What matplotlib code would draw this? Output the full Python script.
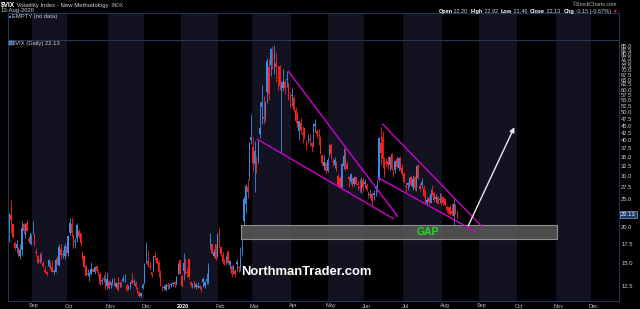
import numpy as np
import pandas as pd
import matplotlib
matplotlib.use('Agg')
import matplotlib.pyplot as plt
import matplotlib.transforms as mtransforms
from matplotlib.patches import Rectangle
from matplotlib.ticker import NullLocator

plt.rcParams['font.family'] = ['Liberation Sans', 'DejaVu Sans']

# ---------------- data: daily (open, high, low, close) ----------------
aug2019 = [(19.5, 22.4, 17.8, 22.10), (22.0, 24.8, 19.0, 21.18), (20.4, 20.7, 18.3, 18.47),
           (17.6, 17.9, 16.6, 16.88), (16.9, 18.0, 16.3, 17.50), (16.7, 17.0, 15.7, 15.80),
           (15.9, 17.5, 15.5, 16.68), (16.6, 21.0, 15.9, 19.87), (20.5, 20.6, 18.9, 19.32),
           (18.8, 20.6, 18.3, 20.31), (20.6, 21.1, 19.3, 19.35), (18.2, 18.6, 17.6, 17.88),
           (17.5, 18.9, 17.3, 18.98)]
sep2019 = [(19.6, 21.0, 18.9, 19.66), (18.8, 19.0, 17.2, 17.33), (16.3, 16.9, 15.9, 16.27),
           (15.8, 16.0, 14.9, 15.00), (15.4, 16.2, 15.0, 15.27), (15.7, 16.4, 15.1, 15.20),
           (15.0, 15.2, 14.5, 14.61), (14.0, 14.6, 13.8, 14.22), (13.9, 14.1, 13.5, 13.74),
           (15.3, 15.5, 14.5, 14.67), (14.8, 15.2, 14.2, 14.44), (14.5, 15.4, 13.9, 13.95),
           (13.9, 14.3, 13.7, 14.05), (14.0, 15.6, 13.9, 15.32), (15.7, 15.9, 14.8, 14.91),
           (14.8, 17.4, 14.6, 17.05), (16.8, 17.4, 15.5, 15.96), (16.0, 16.6, 15.6, 16.07),
           (15.8, 17.6, 15.5, 17.22), (17.1, 17.2, 15.9, 16.24)]
oct2019 = [(16.3, 18.8, 15.8, 18.56), (19.0, 21.5, 18.8, 20.56), (20.4, 21.5, 18.5, 19.12),
           (18.6, 18.9, 16.9, 17.04), (17.8, 18.3, 16.9, 17.86), (18.3, 20.6, 17.8, 20.28),
           (19.4, 19.6, 18.3, 18.64), (19.0, 19.1, 17.2, 17.57), (16.4, 16.5, 15.4, 15.58),
           (15.9, 16.0, 14.5, 14.57), (14.6, 14.7, 13.5, 13.54), (13.8, 14.3, 13.5, 13.68),
           (13.6, 13.9, 13.0, 13.79), (13.7, 15.1, 13.6, 14.25), (14.3, 14.4, 13.9, 14.00),
           (14.0, 14.6, 13.7, 14.46), (14.6, 14.8, 13.9, 14.01), (13.9, 14.2, 13.5, 13.71),
           (13.7, 13.9, 12.6, 12.65), (13.0, 13.3, 12.7, 13.11), (13.2, 13.6, 12.9, 13.20),
           (13.3, 13.9, 12.1, 12.33), (12.5, 13.9, 12.2, 13.22)]
nov2019 = [(13.0, 13.1, 12.2, 12.30), (12.6, 12.9, 12.3, 12.83), (12.8, 13.3, 12.6, 13.10),
           (13.2, 13.3, 12.5, 12.62), (12.4, 12.9, 12.3, 12.73), (12.8, 13.4, 12.0, 12.07),
           (12.7, 12.9, 12.4, 12.69), (12.6, 13.0, 12.4, 12.68), (13.2, 13.6, 12.9, 13.00),
           (13.1, 13.7, 12.9, 13.05), (12.6, 12.7, 12.0, 12.05), (12.3, 12.6, 12.1, 12.46),
           (12.4, 12.9, 12.2, 12.86), (13.1, 13.8, 12.7, 12.78), (12.9, 13.2, 12.6, 12.98),
           (12.8, 13.0, 12.2, 12.34), (12.3, 12.4, 11.8, 11.87), (11.9, 12.0, 11.4, 11.54),
           (11.5, 11.8, 11.4, 11.75), (12.3, 12.8, 12.2, 12.62)]
dec2019 = [(12.9, 15.0, 12.7, 14.91), (16.0, 17.8, 15.0, 15.96), (15.2, 16.6, 14.5, 14.80),
           (14.6, 15.2, 14.2, 14.52), (13.9, 14.0, 13.4, 13.62), (14.2, 15.9, 14.1, 15.86),
           (15.8, 16.4, 15.3, 15.68), (15.6, 15.7, 14.9, 14.99), (15.1, 15.4, 13.4, 13.94),
           (13.5, 14.2, 12.5, 12.63), (12.4, 12.6, 12.0, 12.14), (12.4, 12.6, 12.1, 12.29),
           (12.1, 12.8, 12.0, 12.58), (12.6, 12.9, 12.2, 12.50), (12.4, 12.7, 12.2, 12.51),
           (12.6, 12.9, 12.4, 12.61), (12.8, 12.9, 12.5, 12.67), (12.9, 13.0, 12.4, 12.65),
           (12.7, 13.5, 12.6, 13.43), (13.8, 15.0, 13.7, 14.82), (15.3, 15.4, 13.7, 13.78)]
jan2020 = [(13.5, 13.7, 12.4, 12.47), (15.0, 16.2, 13.1, 14.02), (15.5, 15.5, 13.7, 13.85),
           (14.0, 14.4, 13.4, 13.79), (15.5, 15.5, 13.2, 13.45), (12.9, 13.0, 12.4, 12.54),
           (12.6, 12.8, 12.3, 12.56), (13.0, 13.0, 12.3, 12.32), (12.7, 12.8, 12.2, 12.39),
           (12.5, 12.9, 12.3, 12.42), (12.5, 12.6, 12.2, 12.32), (12.3, 12.5, 11.9, 12.10),
           (13.2, 13.4, 12.4, 12.85), (12.5, 13.0, 12.3, 12.91), (13.2, 13.8, 12.7, 12.98),
           (12.9, 15.0, 12.7, 14.56), (17.8, 19.0, 16.7, 18.23), (17.4, 17.6, 16.1, 16.28),
           (15.9, 16.7, 15.7, 16.39), (17.4, 17.5, 15.4, 15.49), (15.9, 19.0, 15.7, 18.84)]
feb2020 = [(18.0, 19.8, 17.1, 17.97), (17.0, 17.1, 15.9, 16.05), (16.0, 16.4, 14.9, 15.15),
           (15.3, 15.5, 14.7, 14.96), (15.4, 16.0, 14.9, 15.47), (16.4, 16.6, 14.9, 15.04),
           (14.8, 15.3, 14.3, 15.18), (14.6, 14.7, 13.4, 13.74), (14.5, 14.8, 13.7, 14.15),
           (14.1, 14.3, 13.4, 13.68), (15.1, 15.5, 14.1, 14.83), (14.5, 14.6, 13.9, 14.38),
           (14.4, 17.1, 14.1, 15.56), (16.4, 18.1, 15.8, 17.08), (21.0, 25.6, 20.3, 25.03),
           (24.0, 28.1, 22.3, 27.85), (26.5, 29.4, 25.3, 27.56), (30.1, 39.4, 29.2, 39.16),
           (41.0, 49.5, 38.7, 40.11)]
mar2020 = [(38.0, 41.0, 31.2, 33.42), (33.0, 39.9, 26.4, 36.82), (34.0, 35.4, 30.7, 31.99),
           (34.0, 40.0, 33.3, 39.62), (44.0, 54.4, 40.8, 41.94), (52.0, 62.1, 45.7, 54.46),
           (48.0, 57.0, 45.5, 47.30), (49.0, 54.6, 46.7, 53.90), (59.0, 77.0, 54.0, 75.47),
           (72.0, 76.8, 55.1, 57.83), (73.0, 83.6, 67.0, 82.69), (78.0, 84.8, 71.0, 75.91),
           (80.0, 85.5, 68.1, 76.45), (74.0, 80.8, 63.9, 72.00), (66.0, 72.6, 59.9, 66.04),
           (72.6, 73.3, 59.9, 61.59), (60.5, 64.5, 36.1, 61.67), (61.0, 70.5, 59.5, 63.95),
           (63.5, 64.6, 58.0, 61.00), (65.0, 69.7, 61.1, 65.54), (63.0, 63.1, 55.3, 57.08),
           (53.0, 58.8, 51.7, 53.54)]
apr2020 = [(57.4, 60.6, 52.8, 57.06), (56.0, 57.4, 50.3, 50.91), (51.0, 52.3, 45.9, 46.80),
           (49.0, 50.0, 44.6, 45.24), (43.0, 45.5, 40.1, 46.70), (46.0, 47.7, 42.5, 43.35),
           (42.5, 44.8, 39.0, 41.67), (44.0, 44.3, 40.5, 41.17), (38.0, 40.0, 36.9, 37.76),
           (40.6, 42.1, 39.0, 40.84), (40.5, 42.2, 38.2, 40.11), (39.0, 39.5, 36.6, 38.15),
           (43.0, 45.9, 38.0, 43.83), (45.0, 47.3, 42.9, 45.41), (43.0, 43.9, 40.6, 41.98),
           (41.8, 43.8, 38.4, 41.38), (40.8, 41.5, 35.8, 35.93), (35.5, 35.5, 32.5, 33.29),
           (32.5, 35.5, 31.5, 33.57), (33.4, 33.5, 30.5, 31.23), (31.3, 34.9, 31.0, 34.15)]
may2020 = [(36.0, 38.7, 35.4, 37.19), (38.5, 39.2, 34.4, 35.97), (34.0, 34.6, 32.6, 33.61),
           (32.7, 35.0, 32.0, 34.12), (33.0, 33.8, 31.3, 31.44), (30.0, 30.5, 27.7, 27.98),
           (29.5, 30.0, 27.5, 27.57), (27.6, 33.3, 27.3, 33.04), (32.5, 37.5, 31.8, 35.28),
           (35.5, 38.3, 31.6, 32.61), (33.0, 33.9, 31.7, 31.89), (29.7, 30.0, 27.5, 29.30),
           (28.6, 30.8, 28.2, 30.53), (29.5, 29.6, 27.6, 27.99), (28.2, 30.0, 27.8, 29.53),
           (29.8, 29.8, 27.9, 28.16), (28.0, 28.9, 26.8, 28.01), (27.4, 29.3, 26.4, 27.62),
           (27.0, 29.7, 26.3, 28.59), (29.0, 29.5, 26.6, 27.51)]
jun2020 = [(28.6, 29.3, 27.3, 28.23), (28.0, 28.5, 26.6, 26.84), (26.4, 26.6, 25.2, 25.66),
           (26.0, 27.0, 25.2, 25.81), (26.0, 26.4, 23.9, 24.52), (26.2, 26.8, 24.9, 25.81),
           (27.0, 28.0, 25.6, 27.57), (27.7, 29.2, 26.4, 27.57), (29.0, 41.2, 28.8, 40.79),
           (39.0, 44.4, 32.9, 36.09), (41.0, 43.0, 32.1, 34.40), (30.5, 35.0, 29.8, 33.67),
           (33.5, 34.7, 32.2, 33.47), (34.0, 35.2, 31.9, 32.94), (32.7, 35.2, 31.4, 35.12),
           (35.8, 36.1, 31.5, 31.77), (30.8, 31.9, 29.8, 31.37), (31.5, 34.2, 30.9, 33.84),
           (34.5, 35.2, 31.8, 32.22), (32.0, 35.0, 31.4, 34.73), (34.8, 35.4, 31.5, 31.78),
           (32.0, 33.1, 30.2, 30.43)]
jul2020 = [(30.5, 31.1, 28.5, 28.62), (27.6, 28.6, 26.4, 27.68), (28.5, 28.6, 26.9, 27.94),
           (28.5, 29.9, 27.5, 29.43), (29.9, 30.0, 27.7, 28.08), (27.5, 30.4, 26.9, 29.26),
           (29.9, 30.0, 26.9, 27.29), (27.5, 32.9, 26.6, 32.19), (32.5, 33.0, 29.4, 29.52),
           (27.0, 28.4, 26.6, 27.76), (28.6, 29.6, 27.4, 28.00), (27.3, 27.9, 25.5, 25.68),
           (26.4, 26.8, 24.5, 24.46), (24.2, 25.4, 23.9, 24.84), (25.2, 25.6, 24.0, 24.32),
           (24.3, 27.0, 24.2, 26.08), (26.9, 27.9, 25.8, 25.84), (26.3, 26.5, 24.5, 24.74),
           (25.0, 26.0, 24.5, 25.44), (25.4, 25.7, 24.0, 24.10), (25.0, 26.3, 24.3, 24.76),
           (24.7, 26.2, 23.9, 24.46)]
aug2020 = [(25.4, 25.6, 23.8, 24.28), (25.0, 25.0, 23.7, 23.76), (23.5, 23.8, 22.6, 22.99),
           (23.4, 23.5, 22.2, 22.65), (23.5, 23.8, 22.0, 22.21), (22.8, 24.2, 21.9, 22.13),
           (21.9, 25.0, 20.3, 24.03), (23.8, 24.1, 22.2, 22.28), (22.20, 22.92, 21.46, 22.13)]

months_data = [aug2019, sep2019, oct2019, nov2019, dec2019, jan2020, feb2020,
               mar2020, apr2020, may2020, jun2020, jul2020, aug2020]

# Trendlines: (start date index, start value, end date index, end value)
trend_lines = [
    (156.8, 69.6, 218.7, 21.66),
    (139.3, 40.4, 216.4, 21.3),
    (209.9, 45.6, 266.1, 20.0),
    (207.0, 29.75, 263.0, 19.16),
]
arrow_from = (258.2, 20.2)
arrow_to = (284.1, 44.4)
gap_x = (130.3, 308.1)
gap_y = (18.15, 20.3)

y_ticks = [12.5, 15.0, 17.5, 20.0, 25.0, 27.5, 30.0, 32.5, 35.0, 37.5, 40.0, 42.5, 45.0,
           47.5, 50.0, 52.5, 55.0, 57.5, 60.0, 62.5, 65.0, 67.5, 70.0, 72.5, 75.0, 77.5,
           80.0, 82.5, 85.0]
month_names = ['Jan', 'Feb', 'Mar', 'Apr', 'May', 'Jun', 'Jul', 'Aug', 'Sep', 'Oct', 'Nov', 'Dec']

holidays = ['2019-09-02', '2019-11-28', '2019-12-25', '2020-01-01', '2020-01-20',
            '2020-02-17', '2020-04-10', '2020-05-25', '2020-07-03', '2020-09-07',
            '2020-11-26', '2020-12-25']
dates = pd.bdate_range('2019-08-14', '2020-12-31', freq='C', holidays=holidays)

# ---------------- build ----------------
ohlc = np.array([row for m in months_data for row in m])
n = len(ohlc)
pos = np.arange(n)
o, h, l, c = ohlc[:, 0], ohlc[:, 1], ohlc[:, 2], ohlc[:, 3]
prev = np.concatenate([[c[0]], c[:-1]])
RED = '#ff1f1f'
BLUE = '#3a8ee6'
cols = np.where(c >= prev, BLUE, RED)

W, H = 640, 309
fig = plt.figure(figsize=(6.4, 3.09), dpi=100, facecolor='black')


def fx(px):
    return px / W


def fy(py):
    return 1 - py / H


L, R = 8, 619
ax = fig.add_axes([fx(L), fy(301), (R - L) / W, (301 - 40) / H])
axt = fig.add_axes([fx(L), fy(40), (R - L) / W, (40 - 13) / H])

xlim = (-0.8, 343.0)
SPINE = '#1f3a5e'
BAND = '#121220'

series = pd.Series(np.arange(len(dates)), index=dates)
firsts = series.groupby(dates.to_period('M')).first()

for a in (ax, axt):
    a.set_facecolor('black')
    a.set_xlim(*xlim)
    for s in a.spines.values():
        s.set_color(SPINE)
        s.set_linewidth(0.7)
    keys = list(firsts.index)
    for i, per in enumerate(keys):
        if per.month in (9, 11, 1, 3, 5, 7):
            start = firsts[per] - 0.5
            end = firsts[keys[i + 1]] - 0.5 if i + 1 < len(keys) else xlim[1]
            a.axvspan(start, end, color=BAND, zorder=0, lw=0)

axt.set_xticks([])
axt.set_yticks([])

# candles
ax.set_yscale('log')
ax.set_ylim(11.06, 89.2)
ax.vlines(pos, l, h, colors=cols, linewidth=0.6, zorder=2)
body_lo = np.minimum(o, c)
body_h = np.maximum(np.abs(c - o), 0.006 * c)
ax.bar(pos, body_h, bottom=body_lo, width=0.8, color=cols, linewidth=0, zorder=3)

# gap box
ax.add_patch(Rectangle((gap_x[0], gap_y[0]), gap_x[1] - gap_x[0], gap_y[1] - gap_y[0],
                       facecolor='#5a5a5a', alpha=0.85, edgecolor='#a0a0a0', lw=0.8, zorder=4))
ax.text((gap_x[0] + gap_x[1]) / 2 + 16, 19.2, 'GAP', color='#22dd22', fontsize=7.5,
        fontweight='bold', ha='center', va='center', zorder=6)

# trendlines
for x0, y0, x1, y1 in trend_lines:
    ax.plot([x0, x1], [y0, y1], color='#d000d0', lw=1.0, zorder=5, solid_capstyle='butt')
ax.annotate('', xy=arrow_to, xytext=arrow_from,
            arrowprops=dict(arrowstyle='-|>', color='#e8e8e8', lw=1.0, mutation_scale=7,
                            shrinkA=0, shrinkB=0), zorder=6)

# watermark
ax.text(167.2, 13.95, 'NorthmanTrader.com', color='white', fontsize=9.4, fontweight='bold',
        ha='center', va='center', zorder=6)

# y axis on the right
ax.yaxis.tick_right()
ax.set_yticks(y_ticks)
ax.set_yticklabels(['%.1f' % v for v in y_ticks])
ax.yaxis.set_minor_locator(NullLocator())
ax.tick_params(axis='y', length=0, pad=1.5, labelsize=4.2, labelcolor='#cfcfcf')
tr = mtransforms.blended_transform_factory(ax.transAxes, ax.transData)
ax.text(1.003, c[-1], '%.2f' % c[-1], transform=tr, fontsize=4.2, color='white',
        ha='left', va='center', clip_on=False, zorder=10,
        bbox=dict(boxstyle='square,pad=0.2', fc='#1b3a66', ec='#7f9fd0', lw=0.5))

# x axis month labels
xt, xl = [], []
for per, p in firsts.items():
    if per.year == 2019 and per.month < 9:
        continue
    if p + 0.5 > xlim[1]:
        continue
    xt.append(p + 0.8)
    xl.append('2020' if (per.year == 2020 and per.month == 1) else month_names[per.month - 1])
ax.set_xticks(xt)
ax.set_xticklabels(xl)
ax.xaxis.set_minor_locator(NullLocator())
ax.tick_params(axis='x', length=0, pad=1.8, labelsize=4.0, labelcolor='#bdbdbd')
for lab in ax.get_xticklabels():
    if lab.get_text() == '2020':
        lab.set_fontweight('bold')
        lab.set_color('white')

# ---------------- header texts ----------------
renderer = fig.canvas.get_renderer()


def text_row(parts, y_px, x_left=None, x_right=None):
    objs, widths = [], []
    for s, size, b, col in parts:
        t = fig.text(0, fy(y_px), s, fontsize=size, fontweight='bold' if b else 'normal',
                     color=col, va='center', ha='left')
        objs.append(t)
        widths.append(t.get_window_extent(renderer).width)
    xcur = x_left if x_left is not None else x_right - sum(widths)
    for t, w in zip(objs, widths):
        t.set_x(fx(xcur))
        xcur += w


text_row([(r'\$VIX', 4.7, True, 'white'),
          (' Volatility Index - New Methodology ', 4.3, False, '#d0d0d0'),
          (' INDX', 3.5, False, '#bdbdbd')], 5.5, x_left=1)
fig.text(fx(1), fy(10.5), '13-Aug-2020', color='#d0d0d0', fontsize=4.2, va='center')
fig.text(fx(617), fy(4.5), '\u00a9StockCharts.com', color='#bbbbbb', fontsize=3.8,
         va='center', ha='right')

FS = 4.0
text_row([('Open', FS, True, 'white'), (' 22.20  ', FS, False, '#d0d0d0'),
          ('High', FS, True, 'white'), (' 22.92  ', FS, False, '#d0d0d0'),
          ('Low', FS, True, 'white'), (' 21.46  ', FS, False, '#d0d0d0'),
          ('Close', FS, True, 'white'), (' 22.13  ', FS, False, '#d0d0d0'),
          ('Chg', FS, True, 'white'), (' -0.15 (-0.67%)', FS, False, '#d0d0d0'),
          (' \u25bc', 3.8, False, RED)], 11.5, x_right=618)

# panel legends
fig.patches.append(Rectangle((fx(8.5), fy(17.5)), 2.2 / W, 1.8 / H, transform=fig.transFigure,
                             facecolor='#3a8ee6', edgecolor='none'))
fig.text(fx(11.5), fy(16.5), 'EMPTY (no data)', color='#d0d0d0', fontsize=4.2, va='center')
fig.patches.append(Rectangle((fx(8.5), fy(45)), 3 / W, 3.5 / H, transform=fig.transFigure,
                             facecolor='#2e6fc0', edgecolor='#9ec3ff', lw=0.3))
fig.text(fx(12.5), fy(43.5), r'\$VIX (Daily) 22.13', color='#d0d0d0', fontsize=4.2, va='center')

fig.savefig('out.png', dpi=100, facecolor='black')
